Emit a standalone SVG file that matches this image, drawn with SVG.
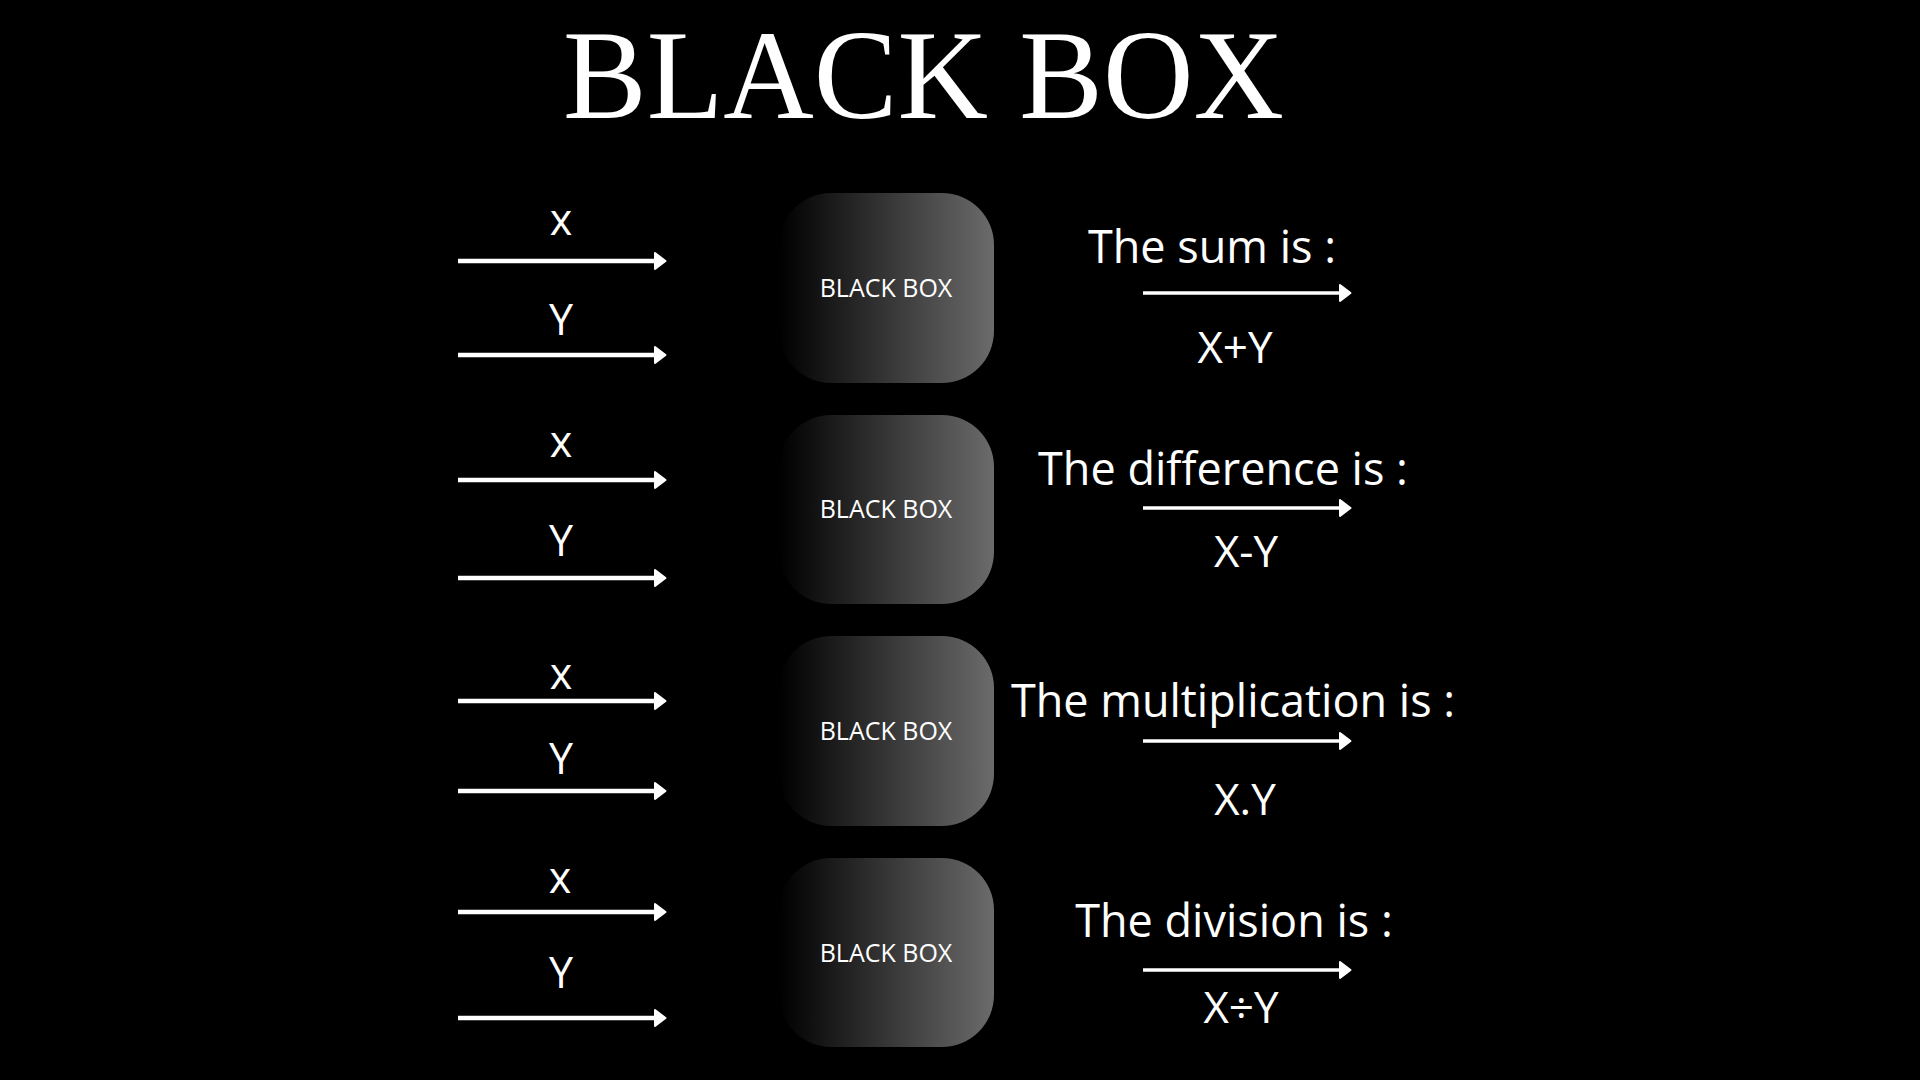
<svg xmlns="http://www.w3.org/2000/svg" width="1920" height="1080" viewBox="0 0 1920 1080">
<defs>
<linearGradient id="boxGrad" x1="0" y1="0" x2="1" y2="0">
<stop offset="0" stop-color="#000000"/>
<stop offset="1" stop-color="#6b6b6b"/>
</linearGradient>
<marker id="head" markerUnits="userSpaceOnUse" markerWidth="16" markerHeight="20" viewBox="0 0 16 20" refX="2" refY="10" orient="auto">
<path d="M2,2 L12.5,10 L2,18 Z" fill="#fff" stroke="#fff" stroke-width="2" stroke-linejoin="round"/>
</marker>
<style>
.title{font-family:"Liberation Serif",serif;font-size:126px;fill:#fff;}
.lbl{font-family:"Open Sans","Noto Sans",sans-serif;font-size:43px;fill:#fff;text-anchor:middle;}
.btxt{font-family:"Open Sans","Noto Sans",sans-serif;font-size:25px;fill:#fff;text-anchor:middle;}
.res{font-family:"Open Sans","Noto Sans",sans-serif;font-size:45px;fill:#fff;text-anchor:middle;}
.val{font-family:"Open Sans","Noto Sans",sans-serif;font-size:44px;fill:#fff;text-anchor:middle;}
.box{fill:url(#boxGrad);}
.in{stroke:#fff;stroke-width:4.5;fill:none;marker-end:url(#head);}
.out{stroke:#fff;stroke-width:3.5;fill:none;marker-end:url(#head);}
</style>
</defs>
<rect x="0" y="0" width="1920" height="1080" fill="#000"/>
<text class="title" x="923.5" y="118" text-anchor="middle" textLength="721" lengthAdjust="spacingAndGlyphs">BLACK BOX</text>

<g id="connectors">
<line class="in" x1="458" y1="261" x2="655" y2="261"/>
<line class="in" x1="458" y1="355" x2="655" y2="355"/>
<line class="in" x1="458" y1="480" x2="655" y2="480"/>
<line class="in" x1="458" y1="578" x2="655" y2="578"/>
<line class="in" x1="458" y1="701" x2="655" y2="701"/>
<line class="in" x1="458" y1="791" x2="655" y2="791"/>
<line class="in" x1="458" y1="912" x2="655" y2="912"/>
<line class="in" x1="458" y1="1018" x2="655" y2="1018"/>
<line class="out" x1="1143" y1="293" x2="1340" y2="293"/>
<line class="out" x1="1143" y1="508" x2="1340" y2="508"/>
<line class="out" x1="1143" y1="741" x2="1340" y2="741"/>
<line class="out" x1="1143" y1="970" x2="1340" y2="970"/>
</g>

<g id="inputs-1">
<text class="lbl" x="561" y="235">x</text>
<text class="lbl" x="561" y="335">Y</text>
</g>
<g id="box-1">
<rect class="box" x="779" y="193" width="215" height="190" rx="52" ry="52"/>
<text class="btxt" x="886" y="297">BLACK BOX</text>
</g>
<g id="output-1">
<text class="res" x="1212" y="263">The sum is :</text>
<text class="val" x="1235" y="363">X+Y</text>
</g>

<g id="inputs-2">
<text class="lbl" x="561" y="457">x</text>
<text class="lbl" x="561" y="556">Y</text>
</g>
<g id="box-2">
<rect class="box" x="779" y="415" width="215" height="189" rx="52" ry="52"/>
<text class="btxt" x="886" y="518">BLACK BOX</text>
</g>
<g id="output-2">
<text class="res" x="1223" y="485">The difference is :</text>
<text class="val" x="1246" y="567">X-Y</text>
</g>

<g id="inputs-3">
<text class="lbl" x="561" y="689">x</text>
<text class="lbl" x="561" y="774">Y</text>
</g>
<g id="box-3">
<rect class="box" x="779" y="636" width="215" height="190" rx="52" ry="52"/>
<text class="btxt" x="886" y="740">BLACK BOX</text>
</g>
<g id="output-3">
<text class="res" x="1233" y="717">The multiplication is :</text>
<text class="val" x="1245" y="815">X.Y</text>
</g>

<g id="inputs-4">
<text class="lbl" x="560" y="893">x</text>
<text class="lbl" x="561" y="988">Y</text>
</g>
<g id="box-4">
<rect class="box" x="779" y="858" width="215" height="189" rx="52" ry="52"/>
<text class="btxt" x="886" y="962">BLACK BOX</text>
</g>
<g id="output-4">
<text class="res" x="1234" y="937">The division is :</text>
<text class="val" x="1241" y="1023">X÷Y</text>
</g>
</svg>
